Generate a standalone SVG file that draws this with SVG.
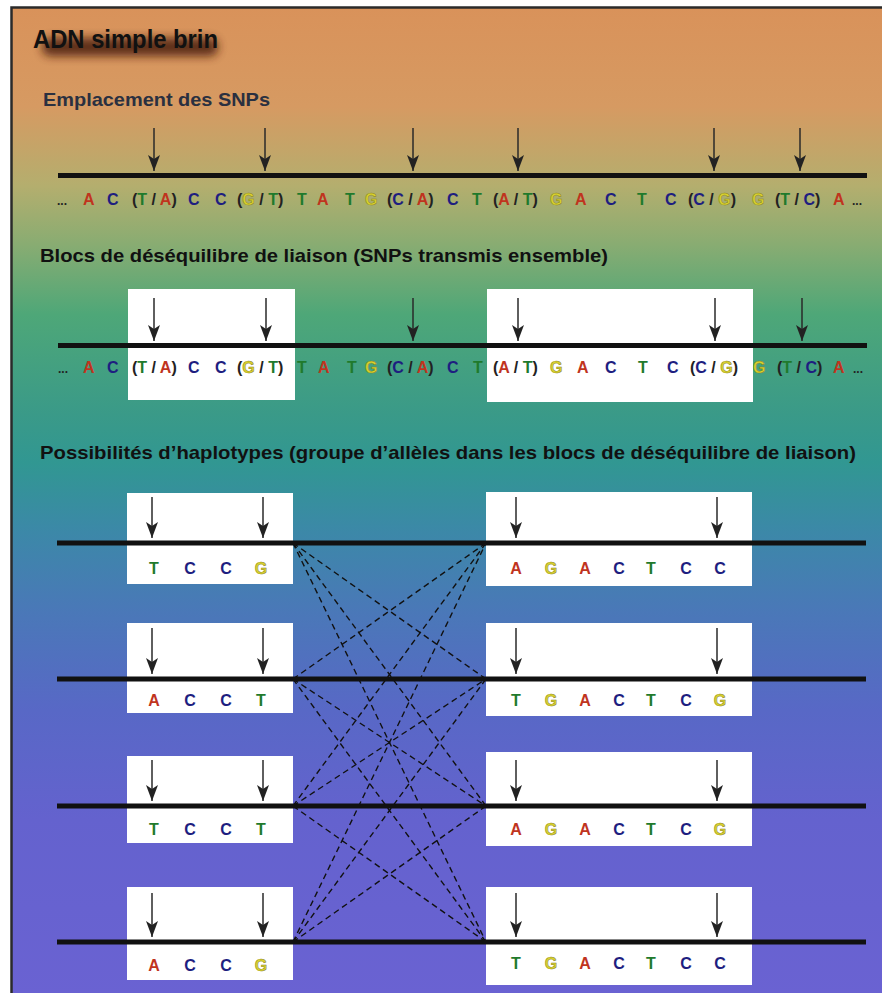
<svg xmlns="http://www.w3.org/2000/svg" width="882" height="993" viewBox="0 0 882 993">
<defs>
<linearGradient id="bg" x1="0" y1="0" x2="0" y2="1">
<stop offset="0" stop-color="#d9925a"/>
<stop offset="0.1" stop-color="#d69a62"/>
<stop offset="0.18" stop-color="#b4ae6e"/>
<stop offset="0.24" stop-color="#88ac72"/>
<stop offset="0.31" stop-color="#4ea778"/>
<stop offset="0.41" stop-color="#3a9a88"/>
<stop offset="0.46" stop-color="#319792"/>
<stop offset="0.53" stop-color="#3c88a8"/>
<stop offset="0.61" stop-color="#4a78b8"/>
<stop offset="0.71" stop-color="#5868c6"/>
<stop offset="0.82" stop-color="#6462ce"/>
<stop offset="1" stop-color="#6a62d2"/>
</linearGradient>
<filter id="shadow" x="-20%" y="-100%" width="140%" height="300%">
<feGaussianBlur stdDeviation="5"/>
</filter>
<marker id="ah" viewBox="0 0 16 12" refX="16" refY="6" markerWidth="16" markerHeight="12" markerUnits="userSpaceOnUse" orient="auto">
<path d="M0,0 L16,6 L0,12 L4,6 Z" fill="#222"/>
</marker>
<style>
.h{font-family:"Liberation Sans",Arial,sans-serif;font-weight:bold;}
.s{font-family:"Liberation Sans",Arial,sans-serif;font-weight:bold;font-size:16px;fill:#222;}
.hp{font-family:"Liberation Sans",Arial,sans-serif;font-weight:bold;font-size:16px;text-anchor:middle;}
.A{fill:#c0341e;}
.C{fill:#1e1e80;}
.T{fill:#1f7a2c;}
.G{fill:#d9d22e;stroke:#8a8420;stroke-width:0.5px;}
.k{fill:#222;}
.dna{stroke:#111;stroke-width:5;fill:none;}
.arr{stroke:#2a2a2a;stroke-width:1.5;fill:none;marker-end:url(#ah);}
.box{fill:#ffffff;}
.dash{stroke:#111;stroke-width:1.4;stroke-dasharray:6 4;fill:none;}
</style>
</defs>

<rect x="0" y="0" width="882" height="993" fill="#ffffff"/>
<rect x="11.5" y="7.5" width="872" height="990" fill="url(#bg)" stroke="#2a2a2a" stroke-width="2.5"/>

<g id="title">
<rect x="42" y="38" width="176" height="18" rx="8" fill="#4a1e08" opacity="0.85" filter="url(#shadow)"/>
<text class="h" x="33" y="48" font-size="26" textLength="185" lengthAdjust="spacingAndGlyphs" fill="#111">ADN simple brin</text>
</g>

<g id="heading-snps">
<text class="h" x="43" y="106" font-size="19" textLength="227" lengthAdjust="spacingAndGlyphs" fill="#2a3040">Emplacement des SNPs</text>
</g>

<g id="row-snps">
<line class="dna" x1="58" y1="175.5" x2="867" y2="175.5"/>
<line class="arr" x1="154" y1="128" x2="154" y2="171"/>
<line class="arr" x1="265" y1="128" x2="265" y2="171"/>
<line class="arr" x1="413" y1="128" x2="413" y2="171"/>
<line class="arr" x1="518" y1="128" x2="518" y2="171"/>
<line class="arr" x1="714" y1="128" x2="714" y2="171"/>
<line class="arr" x1="800" y1="128" x2="800" y2="171"/>
<text class="s" y="205">
<tspan x="57" font-size="12">...</tspan>
<tspan x="83" class="A">A</tspan>
<tspan x="107" class="C">C</tspan>
<tspan x="132">(</tspan><tspan class="T">T</tspan> / <tspan class="A">A</tspan>)
<tspan x="188" class="C">C</tspan>
<tspan x="215" class="C">C</tspan>
<tspan x="237">(</tspan><tspan class="G">G</tspan> / <tspan class="T">T</tspan>)
<tspan x="297" class="T">T</tspan>
<tspan x="317" class="A">A</tspan>
<tspan x="345" class="T">T</tspan>
<tspan x="365" class="G">G</tspan>
<tspan x="387">(</tspan><tspan class="C">C</tspan> / <tspan class="A">A</tspan>)
<tspan x="447" class="C">C</tspan>
<tspan x="472" class="T">T</tspan>
<tspan x="493">(</tspan><tspan class="A">A</tspan> / <tspan class="T">T</tspan>)
<tspan x="550" class="G">G</tspan>
<tspan x="575" class="A">A</tspan>
<tspan x="605" class="C">C</tspan>
<tspan x="637" class="T">T</tspan>
<tspan x="665" class="C">C</tspan>
<tspan x="688">(</tspan><tspan class="C">C</tspan> / <tspan class="G">G</tspan>)
<tspan x="752" class="G">G</tspan>
<tspan x="775">(</tspan><tspan class="T">T</tspan> / <tspan class="C">C</tspan>)
<tspan x="833" class="A">A</tspan>
<tspan x="852" font-size="12">...</tspan>
</text>
</g>

<g id="heading-blocs">
<text class="h" x="40" y="262" font-size="19" textLength="568" lengthAdjust="spacingAndGlyphs" fill="#111">Blocs de déséquilibre de liaison (SNPs transmis ensemble)</text>
</g>

<g id="row-blocs">
<rect class="box" x="128" y="289" width="167" height="111"/>
<rect class="box" x="487" y="289" width="266" height="113"/>
<line class="dna" x1="58" y1="345.5" x2="867" y2="345.5"/>
<line class="arr" x1="154" y1="298" x2="154" y2="341"/>
<line class="arr" x1="266" y1="298" x2="266" y2="341"/>
<line class="arr" x1="413" y1="298" x2="413" y2="341"/>
<line class="arr" x1="518" y1="298" x2="518" y2="341"/>
<line class="arr" x1="715" y1="298" x2="715" y2="341"/>
<line class="arr" x1="802" y1="298" x2="802" y2="341"/>
<text class="s" y="373">
<tspan x="58" font-size="12">...</tspan>
<tspan x="83" class="A">A</tspan>
<tspan x="107" class="C">C</tspan>
<tspan x="132">(</tspan><tspan class="T">T</tspan> / <tspan class="A">A</tspan>)
<tspan x="188" class="C">C</tspan>
<tspan x="215" class="C">C</tspan>
<tspan x="237">(</tspan><tspan class="G">G</tspan> / <tspan class="T">T</tspan>)
<tspan x="297" class="T">T</tspan>
<tspan x="318" class="A">A</tspan>
<tspan x="347" class="T">T</tspan>
<tspan x="365" class="G">G</tspan>
<tspan x="387">(</tspan><tspan class="C">C</tspan> / <tspan class="A">A</tspan>)
<tspan x="447" class="C">C</tspan>
<tspan x="473" class="T">T</tspan>
<tspan x="493">(</tspan><tspan class="A">A</tspan> / <tspan class="T">T</tspan>)
<tspan x="550" class="G">G</tspan>
<tspan x="577" class="A">A</tspan>
<tspan x="605" class="C">C</tspan>
<tspan x="638" class="T">T</tspan>
<tspan x="667" class="C">C</tspan>
<tspan x="690">(</tspan><tspan class="C">C</tspan> / <tspan class="G">G</tspan>)
<tspan x="753" class="G">G</tspan>
<tspan x="777">(</tspan><tspan class="T">T</tspan> / <tspan class="C">C</tspan>)
<tspan x="833" class="A">A</tspan>
<tspan x="853" font-size="12">...</tspan>
</text>
</g>

<g id="heading-haplotypes">
<text class="h" x="40" y="459" font-size="19" textLength="816" lengthAdjust="spacingAndGlyphs" fill="#111">Possibilités d’haplotypes (groupe d’allèles dans les blocs de déséquilibre de liaison)</text>
</g>

<g id="connectors">
<line class="dash" x1="293" y1="543" x2="486" y2="679"/>
<line class="dash" x1="293" y1="543" x2="486" y2="806"/>
<line class="dash" x1="293" y1="543" x2="486" y2="942"/>
<line class="dash" x1="293" y1="679" x2="486" y2="543"/>
<line class="dash" x1="293" y1="679" x2="486" y2="806"/>
<line class="dash" x1="293" y1="679" x2="486" y2="942"/>
<line class="dash" x1="293" y1="806" x2="486" y2="543"/>
<line class="dash" x1="293" y1="806" x2="486" y2="679"/>
<line class="dash" x1="293" y1="806" x2="486" y2="942"/>
<line class="dash" x1="293" y1="942" x2="486" y2="543"/>
<line class="dash" x1="293" y1="942" x2="486" y2="679"/>
<line class="dash" x1="293" y1="942" x2="486" y2="806"/>
</g>

<g id="hap-left-1">
<rect class="box" x="127" y="493" width="166" height="91"/>
</g>
<g id="hap-right-1">
<rect class="box" x="486" y="492" width="266" height="94"/>
</g>
<g id="hap-left-2">
<rect class="box" x="127" y="623" width="166" height="90"/>
</g>
<g id="hap-right-2">
<rect class="box" x="486" y="623" width="266" height="93"/>
</g>
<g id="hap-left-3">
<rect class="box" x="127" y="756" width="166" height="87"/>
</g>
<g id="hap-right-3">
<rect class="box" x="486" y="752" width="266" height="94"/>
</g>
<g id="hap-left-4">
<rect class="box" x="127" y="887" width="166" height="93"/>
</g>
<g id="hap-right-4">
<rect class="box" x="486" y="887" width="266" height="98"/>
</g>

<g id="hap-lines">
<line class="dna" x1="57" y1="543" x2="866" y2="543"/>
<line class="dna" x1="57" y1="679" x2="866" y2="679"/>
<line class="dna" x1="57" y1="806" x2="866" y2="806"/>
<line class="dna" x1="57" y1="942" x2="866" y2="942"/>
</g>

<g id="hap-arrows">
<line class="arr" x1="152" y1="497" x2="152" y2="538"/>
<line class="arr" x1="263" y1="497" x2="263" y2="538"/>
<line class="arr" x1="516" y1="497" x2="516" y2="538"/>
<line class="arr" x1="717" y1="497" x2="717" y2="538"/>
<line class="arr" x1="152" y1="628" x2="152" y2="674"/>
<line class="arr" x1="263" y1="628" x2="263" y2="674"/>
<line class="arr" x1="516" y1="628" x2="516" y2="674"/>
<line class="arr" x1="717" y1="628" x2="717" y2="674"/>
<line class="arr" x1="152" y1="760" x2="152" y2="801"/>
<line class="arr" x1="263" y1="760" x2="263" y2="801"/>
<line class="arr" x1="516" y1="760" x2="516" y2="801"/>
<line class="arr" x1="717" y1="760" x2="717" y2="801"/>
<line class="arr" x1="152" y1="893" x2="152" y2="937"/>
<line class="arr" x1="263" y1="893" x2="263" y2="937"/>
<line class="arr" x1="516" y1="893" x2="516" y2="937"/>
<line class="arr" x1="717" y1="893" x2="717" y2="937"/>
</g>

<g id="hap-letters">
<text class="hp" y="574"><tspan x="154" class="T">T</tspan><tspan x="190" class="C">C</tspan><tspan x="226" class="C">C</tspan><tspan x="261" class="G">G</tspan></text>
<text class="hp" y="574"><tspan x="516" class="A">A</tspan><tspan x="551" class="G">G</tspan><tspan x="585" class="A">A</tspan><tspan x="619" class="C">C</tspan><tspan x="651" class="T">T</tspan><tspan x="686" class="C">C</tspan><tspan x="720" class="C">C</tspan></text>
<text class="hp" y="706"><tspan x="154" class="A">A</tspan><tspan x="190" class="C">C</tspan><tspan x="226" class="C">C</tspan><tspan x="261" class="T">T</tspan></text>
<text class="hp" y="706"><tspan x="516" class="T">T</tspan><tspan x="551" class="G">G</tspan><tspan x="585" class="A">A</tspan><tspan x="619" class="C">C</tspan><tspan x="651" class="T">T</tspan><tspan x="686" class="C">C</tspan><tspan x="720" class="G">G</tspan></text>
<text class="hp" y="835"><tspan x="154" class="T">T</tspan><tspan x="190" class="C">C</tspan><tspan x="226" class="C">C</tspan><tspan x="261" class="T">T</tspan></text>
<text class="hp" y="835"><tspan x="516" class="A">A</tspan><tspan x="551" class="G">G</tspan><tspan x="585" class="A">A</tspan><tspan x="619" class="C">C</tspan><tspan x="651" class="T">T</tspan><tspan x="686" class="C">C</tspan><tspan x="720" class="G">G</tspan></text>
<text class="hp" y="971"><tspan x="154" class="A">A</tspan><tspan x="190" class="C">C</tspan><tspan x="226" class="C">C</tspan><tspan x="261" class="G">G</tspan></text>
<text class="hp" y="969"><tspan x="516" class="T">T</tspan><tspan x="551" class="G">G</tspan><tspan x="585" class="A">A</tspan><tspan x="619" class="C">C</tspan><tspan x="651" class="T">T</tspan><tspan x="686" class="C">C</tspan><tspan x="720" class="C">C</tspan></text>
</g>
</svg>
